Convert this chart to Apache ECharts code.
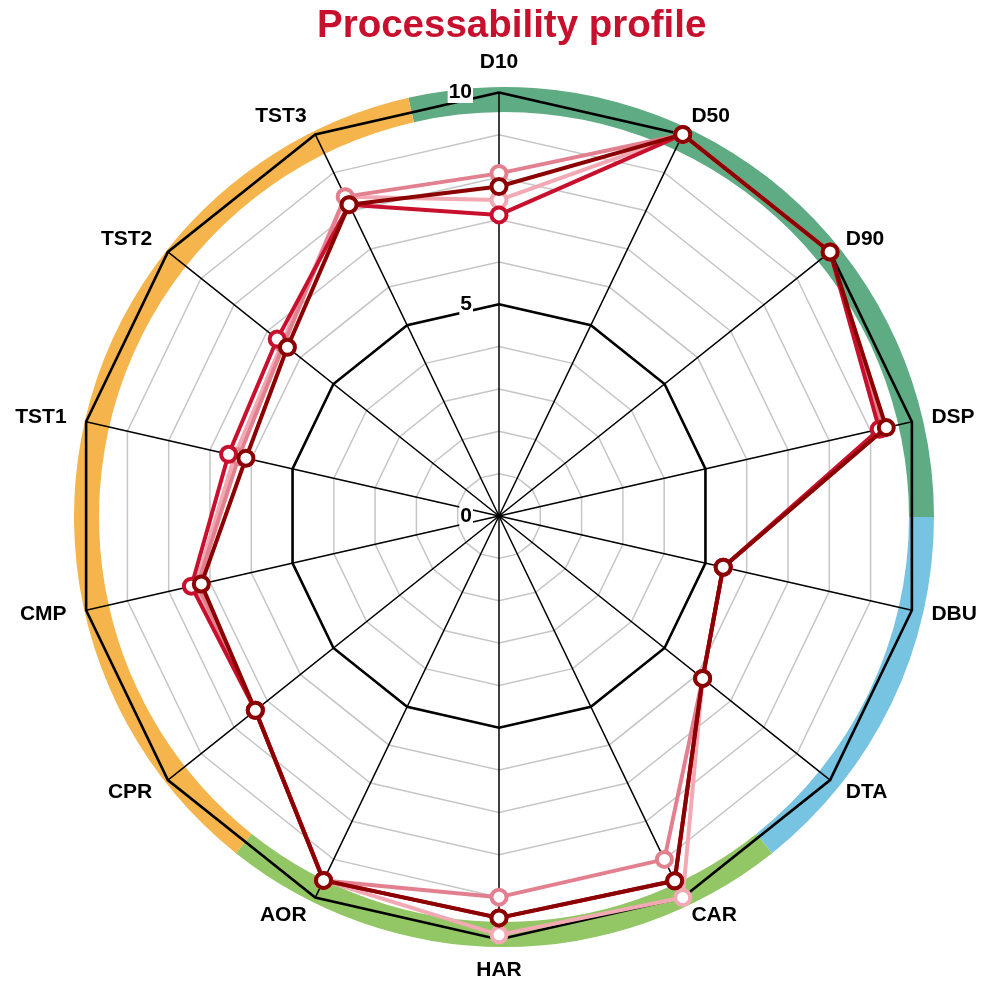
<!DOCTYPE html>
<html>
<head>
<meta charset="utf-8">
<title>Processability profile</title>
<script src="https://cdn.jsdelivr.net/npm/echarts@6/dist/echarts.min.js"></script>
<style>
  html, body { margin: 0; padding: 0; background: #fff; }
  #chart { width: 984px; height: 987px; }
</style>
</head>
<body>
<div id="chart"></div>
<script>
// indicators, clockwise from the top
var indicators = ['D10', 'D50', 'D90', 'DSP', 'DBU', 'DTA', 'CAR', 'HAR', 'AOR', 'CPR', 'CMP', 'TST1', 'TST2', 'TST3']
// colour groups of the outer ring (number of indicators in each, clockwise from D10)
var ringGroups = ['flow', 'bulk', 'flowability', 'compression']
var ringCounts = [4, 2, 3, 5]
var ringColors = ['#5fab83', '#76c3e2', '#93c664', '#f5b54c']

var seriesNames = ['Sample 4', 'Sample 3', 'Sample 2', 'Sample 1']
var seriesColors = ['#f2a9b4', '#e3808f', '#c8102e', '#8b0000']
var values1 = [7.46, 10, 10, 9.3, 5.43, 6.15, 10, 9.89, 9.55, 7.36, 7.35, 6.4, 6.55, 8.37]
var values2 = [8.09, 10, 10, 9.3, 5.43, 6.15, 9.0, 9.0, 9.55, 7.36, 7.3, 6.3, 6.5, 8.37]
var values3 = [7.11, 10, 10, 9.21, 5.43, 6.15, 9.56, 9.49, 9.55, 7.36, 7.45, 6.55, 6.7, 8.16]
var values4 = [7.78, 10, 10, 9.38, 5.43, 6.15, 9.56, 9.49, 9.55, 7.36, 7.21, 6.13, 6.39, 8.16]
var allValues = [values1, values2, values3, values4]
var maxValue = 10
var tickLabels = [0, 5, 10]

var chart = echarts.init(document.getElementById('chart'))

// echarts lays radar axes out counter-clockwise, so feed them reversed after D10
var ordered = [indicators[0]].concat(indicators.slice(1).reverse())
function reorder(arr) {
  return [arr[0]].concat(arr.slice(1).reverse())
}

var center = [499, 516]
var radius = 423.5

var fineIndicators = ordered.map(function (n) {
  return { name: n, max: maxValue, min: 0 }
})
var mainIndicators = ordered.map(function (n, i) {
  var ind = { name: n, max: maxValue, min: 0 }
  if (i === 0) {
    ind.axisLabel = {
      show: true,
      margin: 26,
      formatter: function (v) {
        return tickLabels.indexOf(v) >= 0 ? '{t|' + v + '}' : ''
      },
      rich: {
        t: {
          color: '#000',
          fontSize: 21,
          fontWeight: 'bold',
          fontFamily: 'Liberation Sans',
          backgroundColor: '#fff',
          padding: [0, 1]
        }
      }
    }
  }
  return ind
})

var ringData = ringGroups.map(function (g, i) {
  return { name: g, value: ringCounts[i], itemStyle: { color: ringColors[i] } }
})

var radarSeries = allValues.map(function (vals, i) {
  return {
    name: seriesNames[i],
    type: 'radar',
    radarIndex: 1,
    z: 5 + i,
    symbol: 'circle',
    symbolSize: 15,
    itemStyle: {
      color: '#fff',
      borderColor: seriesColors[i],
      borderWidth: 4
    },
    lineStyle: { color: seriesColors[i], width: 4 },
    emphasis: { disabled: true },
    data: [{ value: reorder(vals), name: seriesNames[i] }]
  }
})

chart.setOption({
  animation: false,
  title: {
    text: 'Processability profile',
    left: 312,
    top: 2,
    textStyle: {
      color: '#c8102e',
      fontSize: 38.5,
      fontWeight: 'bold',
      fontFamily: 'Liberation Sans'
    }
  },
  radar: [{
    // thin grey rings, one per unit
    center: center,
    radius: radius,
    startAngle: 90,
    splitNumber: 10,
    indicator: fineIndicators,
    z: 3,
    axisName: { show: false },
    axisLine: { show: false },
    axisTick: { show: false },
    splitArea: { show: false },
    splitLine: { lineStyle: { color: '#c6c6c6', width: 1.5 } }
  }, {
    // black rings at 5 and 10 with axes and names
    center: center,
    radius: radius,
    startAngle: 90,
    splitNumber: 2,
    indicator: mainIndicators,
    z: 4,
    nameGap: 20,
    axisName: {
      color: '#000',
      fontSize: 21,
      fontWeight: 'bold',
      fontFamily: 'Liberation Sans'
    },
    axisLine: { lineStyle: { color: '#000', width: 1.5 } },
    axisTick: { show: false },
    splitArea: { show: false },
    splitLine: { lineStyle: { color: '#000', width: 2.6 } }
  }],
  series: [{
    type: 'pie',
    z: 1,
    silent: true,
    center: [504, 517],
    radius: [405, 430],
    startAngle: 90 + 180 / indicators.length,
    clockwise: true,
    label: { show: false },
    labelLine: { show: false },
    itemStyle: { borderWidth: 0 },
    data: ringData
  }].concat(radarSeries)
})

window.onresize = function () {
  chart.resize()
}
</script>
</body>
</html>
